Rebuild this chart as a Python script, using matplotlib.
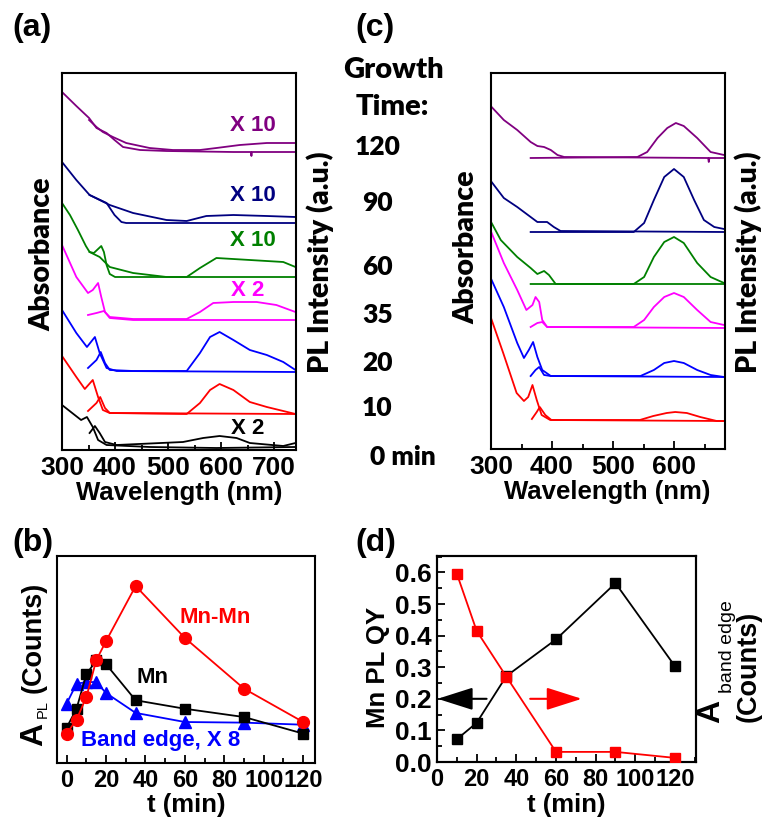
import matplotlib
matplotlib.use("Agg")
import matplotlib.pyplot as plt
from matplotlib.ticker import MultipleLocator, FormatStrFormatter, NullLocator

plt.rcParams['font.family'] = ['Liberation Sans', 'DejaVu Sans']
plt.rcParams['font.weight'] = 'bold'
plt.rcParams['axes.linewidth'] = 1.5

W, H = 768, 818

# ---------------------------------------------------------------- data
growth_labels = ['120', '90', '60', '35', '20', '10', '0 min']
spec_colors = ['#000000', '#ff0000', '#0000ff', '#ff00ff', '#008000', '#000080', '#800080']

# panel (a): absorption and PL spectra (wavelength nm, stacked intensity)
a_abs_0 = [(300, 45), (336, 30), (347, 33), (358, 23), (368, 10), (384, 5), (465, 3), (591, 2), (740, 3)]
a_pl_0 = [(352, 17), (362, 24), (371, 17), (381, 8), (403, 5), (528, 8), (566, 12), (597, 14),
          (629, 12), (654, 7), (717, 4), (740, 7)]
a_abs_10 = [(300, 94), (327, 73), (343, 61), (358, 70), (368, 53), (377, 40), (390, 37), (740, 36)]
a_pl_10 = [(349, 39), (365, 47), (372, 53), (381, 42), (390, 37), (535, 36), (560, 47), (579, 60),
           (597, 66), (623, 60), (654, 48), (686, 43), (717, 39), (740, 36)]
a_abs_20 = [(300, 140), (327, 117), (347, 103), (362, 113), (371, 97), (384, 82), (403, 79), (740, 78)]
a_pl_20 = [(349, 82), (365, 90), (373, 98), (381, 87), (390, 80), (434, 79), (535, 79), (560, 97),
           (579, 113), (597, 118), (623, 110), (654, 100), (686, 95), (717, 88), (740, 80)]
a_abs_35 = [(300, 205), (327, 173), (349, 157), (358, 160), (368, 167), (374, 153), (381, 138),
            (390, 132), (434, 130), (740, 130)]
a_pl_35 = [(349, 135), (365, 137), (379, 139), (390, 133), (434, 131), (535, 131), (560, 138),
           (585, 147), (623, 148), (667, 148), (704, 145), (740, 138)]
a_abs_60 = [(300, 247), (315, 235), (330, 220), (345, 204), (352, 198), (360, 197), (368, 201),
            (374, 204), (379, 198), (384, 185), (390, 176), (400, 173), (740, 173)]
a_pl_60 = [(352, 198), (371, 193), (390, 183), (434, 177), (497, 173), (535, 173), (560, 182),
           (591, 192), (654, 190), (717, 188), (740, 183)]
a_abs_90 = [(300, 288), (327, 270), (352, 255), (384, 247), (399, 235), (412, 228), (421, 227), (740, 227)]
a_pl_90 = [(352, 255), (371, 250), (390, 245), (434, 237), (497, 230), (535, 229), (572, 234),
           (623, 235), (686, 234), (740, 233)]
a_abs_120 = [(300, 358), (327, 344), (351, 332), (365, 322), (384, 317), (399, 310), (415, 303),
             (447, 300), (497, 299), (623, 298), (656, 298), (657, 294), (658, 298), (740, 298)]
a_pl_120 = [(351, 330), (365, 323), (377, 318), (396, 313), (421, 307), (465, 302), (509, 300),
            (560, 300), (591, 302), (635, 305), (686, 307), (740, 307)]

# panel (c)
c_abs_10 = [(300, 131), (320, 96), (342, 56), (354, 48), (361, 52), (368, 64), (375, 49), (383, 34),
            (397, 29), (682, 28)]
c_pl_10 = [(367, 30), (375, 37), (380, 42), (389, 34), (399, 29), (544, 29), (566, 33), (588, 36),
           (602, 37), (621, 36), (643, 32), (670, 28), (682, 28)]
c_abs_20 = [(301, 169), (321, 142), (343, 106), (354, 91), (362, 99), (369, 107), (376, 92),
            (384, 79), (398, 73), (682, 72)]
c_pl_20 = [(365, 73), (373, 79), (379, 82), (387, 74), (398, 73), (545, 73), (567, 79), (584, 86),
           (600, 88), (616, 86), (638, 79), (660, 74), (682, 72)]
c_abs_35 = [(301, 216), (321, 186), (343, 159), (358, 139), (368, 144), (373, 152), (379, 147),
            (384, 129), (392, 122), (682, 121)]
c_pl_35 = [(365, 122), (376, 126), (384, 127), (392, 122), (534, 122), (551, 129), (567, 142),
           (584, 152), (600, 156), (616, 152), (638, 139), (660, 127), (682, 124)]
c_abs_60 = [(301, 226), (316, 209), (343, 192), (365, 181), (376, 175), (387, 178), (395, 174),
            (406, 165), (682, 165)]
c_pl_60 = [(365, 165), (534, 165), (551, 172), (567, 192), (584, 207), (600, 212), (616, 206),
           (638, 186), (660, 172), (682, 166)]
c_abs_90 = [(301, 267), (321, 251), (343, 242), (365, 232), (376, 227), (392, 227), (403, 222),
            (414, 218), (682, 217)]
c_pl_90 = [(365, 217), (534, 217), (551, 226), (567, 249), (584, 272), (600, 280), (616, 272),
           (633, 249), (649, 229), (666, 222), (682, 220)]
c_abs_120 = [(301, 342), (321, 329), (343, 319), (365, 307), (376, 303), (387, 302), (398, 299),
             (409, 294), (420, 292), (656, 291), (657, 287), (658, 291), (682, 291)]
c_pl_120 = [(365, 291), (540, 292), (556, 297), (573, 311), (589, 321), (603, 326), (616, 323),
            (638, 311), (660, 297), (682, 294)]

# panel (b): integrated PL vs growth time
t_b = [0, 5, 10, 15, 20, 35, 60, 90, 120]
a_mnmn = [1.42, 2.09, 3.19, 4.96, 5.89, 8.55, 6.04, 3.59, 1.98]
a_mn = [1.71, 2.62, 4.28, 4.96, 4.77, 3.03, 2.62, 2.22, 1.42]
a_band_x8 = [2.87, 3.83, 3.91, 3.91, 3.38, 2.42, 1.98, 1.95, 1.85]

# panel (d): Mn PL QY and band-edge area
t_d = [10, 20, 35, 60, 90, 120]
mn_qy = [0.072, 0.124, 0.272, 0.388, 0.566, 0.303]
a_band = [0.596, 0.415, 0.270, 0.032, 0.032, 0.013]

# ---------------------------------------------------------------- layout helpers
fig = plt.figure(figsize=(W / 100, H / 100), dpi=100)


def box(l, t, r, b):
    return [l / W, 1 - b / H, (r - l) / W, (b - t) / H]


def fpos(x, y):
    return x / W, 1 - y / H


TICK = 19
LAB = 18.5
CAL = ['Lato', 'DejaVu Sans']


def style_axis(ax, xsize=TICK):
    ax.tick_params(which='both', direction='in', top=False, right=False, width=1.3,
                   labelsize=TICK, pad=4)
    ax.tick_params(axis='x', labelsize=xsize)
    ax.tick_params(which='major', length=6)
    ax.tick_params(which='minor', length=3.5)
    for lab in ax.get_xticklabels() + ax.get_yticklabels():
        lab.set_fontweight('bold')


def draw_pair(ax, absc, pl, color):
    ax.plot([p[0] for p in absc], [p[1] for p in absc], color=color, lw=1.3,
            solid_joinstyle='round')
    ax.plot([p[0] for p in pl], [p[1] for p in pl], color=color, lw=1.3,
            solid_joinstyle='round')


# ---------------------------------------------------------------- panel (a)
ax_a = fig.add_axes(box(62, 73, 296, 450))
pairs_a = [(a_abs_0, a_pl_0), (a_abs_10, a_pl_10), (a_abs_20, a_pl_20), (a_abs_35, a_pl_35),
           (a_abs_60, a_pl_60), (a_abs_90, a_pl_90), (a_abs_120, a_pl_120)]
for (ab, pl), col in zip(pairs_a, spec_colors):
    draw_pair(ax_a, ab, pl, col)
ax_a.set_xlim(300, 741)
ax_a.set_ylim(0, 377)
ax_a.xaxis.set_major_locator(MultipleLocator(100))
ax_a.xaxis.set_minor_locator(MultipleLocator(50))
ax_a.yaxis.set_major_locator(NullLocator())
style_axis(ax_a)
scale_a = [('X 10', 660, 325, spec_colors[6]), ('X 10', 660, 255, spec_colors[5]),
           ('X 10', 660, 210, spec_colors[4]), ('X 2', 650, 160, spec_colors[3]),
           ('X 2', 650, 22, spec_colors[0])]
for s, x, y, c in scale_a:
    ax_a.text(x, y, s, color=c, fontsize=16, fontweight='bold', ha='center', va='center')

# ---------------------------------------------------------------- panel (c)
ax_c = fig.add_axes(box(491, 73, 725, 449))
pairs_c = [(c_abs_10, c_pl_10), (c_abs_20, c_pl_20), (c_abs_35, c_pl_35),
           (c_abs_60, c_pl_60), (c_abs_90, c_pl_90), (c_abs_120, c_pl_120)]
for (ab, pl), col in zip(pairs_c, spec_colors[1:]):
    draw_pair(ax_c, ab, pl, col)
ax_c.set_xlim(300, 683.6)
ax_c.set_ylim(0, 376)
ax_c.xaxis.set_major_locator(MultipleLocator(100))
ax_c.xaxis.set_minor_locator(MultipleLocator(50))
ax_c.yaxis.set_major_locator(NullLocator())
style_axis(ax_c)

# ---------------------------------------------------------------- panel (b)
ax_b = fig.add_axes(box(57, 556, 315, 763))
ax_b.plot(t_b, a_band_x8, color='#0000ff', marker='^', ms=8.5, lw=1.3, zorder=3)
ax_b.plot(t_b, a_mn, color='black', marker='s', ms=7, lw=1.3, zorder=4)
ax_b.plot(t_b, a_mnmn, color='#ff0000', marker='o', ms=8.5, lw=1.3, zorder=5)
ax_b.set_xlim(-4.9, 126)
ax_b.set_ylim(0, 10)
ax_b.xaxis.set_major_locator(MultipleLocator(20))
ax_b.xaxis.set_minor_locator(MultipleLocator(10))
ax_b.yaxis.set_major_locator(NullLocator())
style_axis(ax_b, xsize=17)
ax_b.text(75.3, 7.04, 'Mn-Mn', color='#ff0000', fontsize=16, fontweight='bold',
          ha='center', va='center')
ax_b.text(43.3, 4.14, 'Mn', color='black', fontsize=16, fontweight='bold',
          ha='center', va='center')
ax_b.text(47.9, 1.10, 'Band edge, X 8', color='#0000ff', fontsize=16, fontweight='bold',
          ha='center', va='center')

# ---------------------------------------------------------------- panel (d)
ax_d = fig.add_axes(box(437, 556, 696, 762))
ax_d.plot(t_d, mn_qy, color='black', marker='s', ms=7.5, lw=1.3, zorder=3)
ax_d.set_xlim(0, 130.6)
ax_d.set_ylim(0, 0.652)
ax_d.xaxis.set_major_locator(MultipleLocator(20))
ax_d.xaxis.set_minor_locator(MultipleLocator(10))
ax_d.yaxis.set_major_locator(MultipleLocator(0.1))
ax_d.yaxis.set_minor_locator(MultipleLocator(0.05))
ax_d.yaxis.set_major_formatter(FormatStrFormatter('%.1f'))
style_axis(ax_d, xsize=17)
ax_d2 = ax_d.twinx()
ax_d2.plot(t_d, a_band, color='#ff0000', marker='s', ms=7.5, lw=1.3, zorder=4)
ax_d2.set_ylim(0, 0.652)
ax_d2.yaxis.set_major_locator(NullLocator())
ax_d.annotate('', xy=(0.3, 0.2), xytext=(25, 0.2),
              arrowprops=dict(arrowstyle='-|>,head_length=1.1,head_width=0.35',
                              color='black', lw=1.5, mutation_scale=20, shrinkA=0, shrinkB=0))
ax_d2.annotate('', xy=(73, 0.2), xytext=(47, 0.2),
               arrowprops=dict(arrowstyle='-|>,head_length=1.1,head_width=0.35',
                               color='#ff0000', lw=1.5, mutation_scale=20, shrinkA=0, shrinkB=0))

# ---------------------------------------------------------------- figure text
for s, x, y in [('(a)', 12, 28), ('(c)', 355, 28), ('(b)', 12, 543), ('(d)', 355, 543)]:
    fig.text(*fpos(x, y), s, fontsize=23, fontweight='bold', ha='left', va='center')

fig.text(*fpos(42, 254), 'Absorbance', family=CAL, fontsize=20.5, fontweight='heavy',
         rotation=90, ha='center', va='center')
fig.text(*fpos(320, 262), 'PL Intensity (a.u.)', family=CAL, fontsize=20.5, fontweight='heavy',
         rotation=90, ha='center', va='center')
fig.text(*fpos(466, 247), 'Absorbance', family=CAL, fontsize=20.5, fontweight='heavy',
         rotation=90, ha='center', va='center')
fig.text(*fpos(748, 262), 'PL Intensity (a.u.)', family=CAL, fontsize=20.5, fontweight='heavy',
         rotation=90, ha='center', va='center')

fig.text(*fpos(343, 70), 'Growth', family=CAL, fontsize=21, fontweight='heavy', ha='left', va='center')
fig.text(*fpos(356, 107), 'Time:', family=CAL, fontsize=21, fontweight='heavy', ha='left', va='center')
time_y = [147, 203, 267, 315, 363, 408, 457]
time_x = [355, 362, 362, 362, 362, 362, 370]
for s, x, y in zip(growth_labels, time_x, time_y):
    fig.text(*fpos(x, y), s, family=CAL, fontsize=19, fontweight='heavy', ha='left', va='center')

fig.text(*fpos(179, 493), 'Wavelength (nm)', fontsize=LAB, fontweight='bold', ha='center', va='center')
fig.text(*fpos(607, 492), 'Wavelength (nm)', fontsize=LAB, fontweight='bold', ha='center', va='center')
fig.text(*fpos(186, 805), 't (min)', fontsize=LAB, fontweight='bold', ha='center', va='center')
fig.text(*fpos(566, 805), 't (min)', fontsize=LAB, fontweight='bold', ha='center', va='center')
fig.text(*fpos(378, 667), 'Mn PL QY', fontsize=LAB, fontweight='bold', rotation=90,
         ha='center', va='center')

# y label of (b): large A with PL subscript, then (Counts)
fig.text(*fpos(34, 734), 'A', fontsize=23, fontweight='bold', rotation=90, ha='center', va='center')
fig.text(*fpos(43, 709), 'PL', fontsize=10.5, fontweight='normal', rotation=90, ha='center', va='center')
fig.text(*fpos(34, 637), '(Counts)', fontsize=19.5, fontweight='bold', rotation=90,
         ha='center', va='center')

# right label of (d)
fig.text(*fpos(711, 711), 'A', fontsize=23, fontweight='bold', rotation=90, ha='center', va='center')
fig.text(*fpos(728, 647), 'band edge', fontsize=14, fontweight='normal', rotation=90,
         ha='center', va='center')
fig.text(*fpos(749, 666), '(Counts)', fontsize=19.5, fontweight='bold', rotation=90,
         ha='center', va='center')

fig.savefig('out.png', dpi=100)
